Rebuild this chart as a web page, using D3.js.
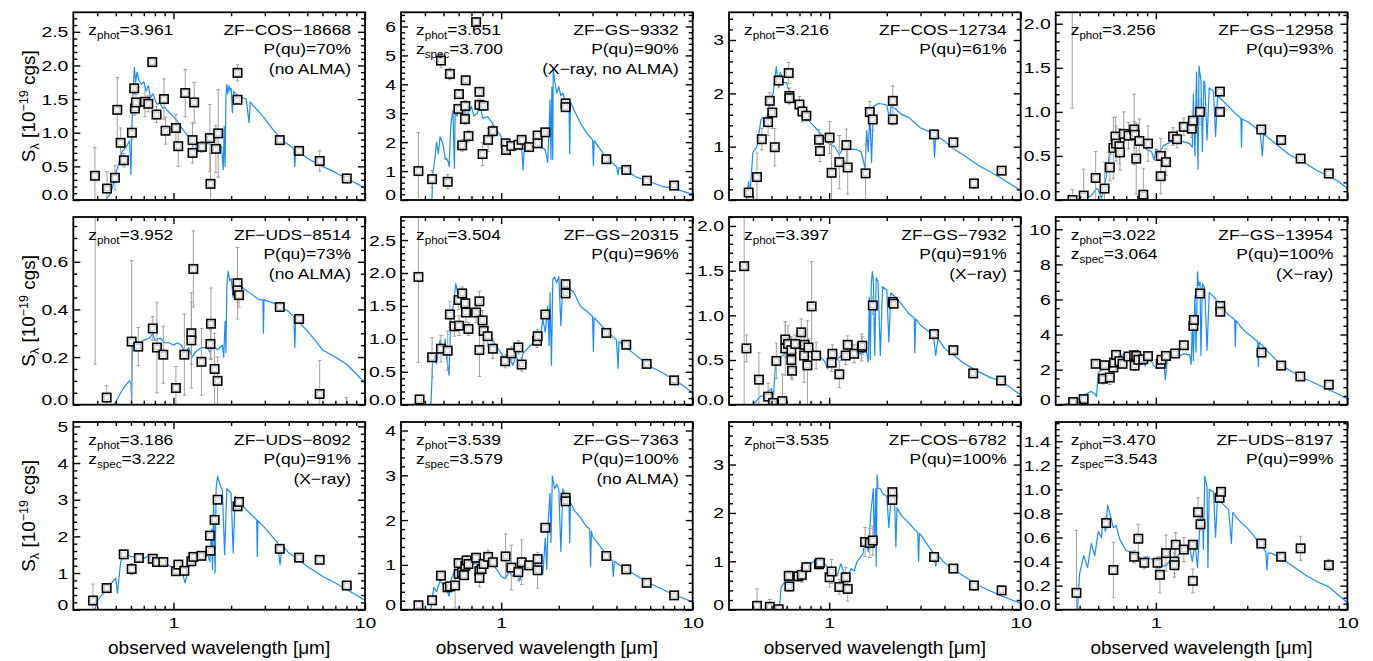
<!DOCTYPE html>
<html><head><meta charset="utf-8">
<script src="https://cdn.jsdelivr.net/npm/d3@7"></script>
<style>body{margin:0;background:#fff}</style>
</head><body><svg id="c" width="1373" height="661" xmlns="http://www.w3.org/2000/svg"></svg>
<script>
// ---------------- DATA ----------------
const names = ["ZF\u2212COS\u221218668","ZF\u2212GS\u22129332","ZF\u2212COS\u221212734","ZF\u2212GS\u221212958",
  "ZF\u2212UDS\u22128514","ZF\u2212GS\u221220315","ZF\u2212GS\u22127932","ZF\u2212GS\u221213954",
  "ZF\u2212UDS\u22128092","ZF\u2212GS\u22127363","ZF\u2212COS\u22126782","ZF\u2212UDS\u22128197"];
const zphot = ["3.961","3.651","3.216","3.256","3.952","3.504","3.397","3.022","3.186","3.539","3.535","3.470"];
const zspec = [null,"3.700",null,null,null,null,null,"3.064","3.222","3.579",null,"3.543"];
const pqu = ["70%","90%","61%","93%","73%","96%","91%","100%","91%","100%","100%","99%"];
const notes = ["(no ALMA)","(X\u2212ray, no ALMA)",null,null,"(no ALMA)",null,"(X\u2212ray)","(X\u2212ray)","(X\u2212ray)","(no ALMA)",null,null];
const yMax = [2.79,6.49,3.52,2.13,0.788,2.85,2.10,10.7,5.12,4.19,3.88,1.56];
const yStep = [0.5,1,1,0.5,0.2,0.5,0.5,2,1,1,1,0.2];
const yMinor = [0.1,0.2,0.2,0.1,0.05,0.1,0.1,0.5,0.2,0.2,0.2,0.05];
const xMajor = [1,10];
const xMinor = [0.4,0.5,0.6,0.7,0.8,0.9,2,3,4,5,6,7,8,9];
const xLabel = "observed wavelength [\u03bcm]";

// model spectra [wavelength (um), S_lambda]
const model1 = [[0.30,0],[0.44,0],[0.46,0.06],[0.48,0.18],[0.50,0.40],[0.52,0.55],[0.54,0.72],[0.55,0.75],[0.57,0.80],[0.59,0.88],[0.60,0.38],[0.605,0.95],[0.615,1.60],[0.625,1.97],[0.635,1.75],[0.645,1.90],[0.66,1.78],[0.68,1.72],[0.70,1.76],[0.72,1.62],[0.74,1.70],[0.76,1.52],[0.78,1.58],[0.80,1.50],[0.82,1.42],[0.85,1.45],[0.88,1.36],[0.90,1.38],[0.95,1.30],[1.0,1.24],[1.05,1.17],[1.1,1.08],[1.15,1.00],[1.2,0.94],[1.25,0.89],[1.3,0.85],[1.33,0.70],[1.36,0.84],[1.4,0.82],[1.5,0.84],[1.6,0.82],[1.7,0.80],[1.78,0.80],[1.82,0.45],[1.84,1.10],[1.86,0.50],[1.88,1.55],[1.9,1.72],[1.92,1.58],[1.95,1.70],[1.98,1.62],[2.0,1.66],[2.03,1.30],[2.06,1.62],[2.1,1.58],[2.2,1.55],[2.3,1.52],[2.4,1.50],[2.48,1.15],[2.52,1.46],[2.6,1.41],[2.8,1.31],[3.0,1.21],[3.3,1.05],[3.5,0.97],[3.8,0.86],[4.0,0.82],[4.25,0.76],[4.3,0.50],[4.35,0.75],[4.5,0.72],[5.0,0.62],[6.0,0.50],[7.0,0.41],[8.0,0.32],[9.0,0.25],[10,0.17]];
const model2 = [[0.30,0],[0.43,0],[0.435,0.02],[0.44,0.90],[0.45,1.38],[0.46,2.00],[0.47,1.60],[0.48,2.19],[0.49,2.05],[0.50,1.85],[0.51,1.40],[0.52,1.44],[0.53,1.30],[0.535,1.15],[0.545,2.50],[0.55,2.77],[0.56,3.10],[0.57,1.10],[0.575,3.00],[0.59,2.90],[0.60,3.11],[0.62,3.10],[0.64,3.35],[0.65,2.77],[0.67,3.00],[0.70,3.23],[0.72,2.90],[0.75,3.00],[0.78,3.30],[0.80,2.83],[0.85,2.88],[0.90,2.65],[0.95,2.40],[1.0,2.19],[1.05,1.85],[1.1,1.73],[1.15,1.90],[1.2,1.85],[1.25,1.75],[1.28,1.80],[1.30,1.04],[1.32,1.79],[1.4,1.79],[1.5,1.85],[1.6,1.85],[1.65,1.80],[1.7,1.73],[1.75,1.30],[1.78,2.50],[1.8,3.46],[1.82,1.40],[1.84,3.90],[1.86,1.40],[1.87,4.55],[1.9,4.15],[1.95,3.70],[2.0,3.92],[2.05,3.60],[2.1,3.70],[2.2,3.23],[2.26,3.30],[2.28,1.60],[2.3,3.40],[2.4,3.11],[2.6,2.65],[2.8,2.31],[3.0,2.08],[3.03,1.20],[3.06,2.05],[3.5,1.50],[4.0,1.15],[4.08,0.87],[4.12,1.12],[4.5,1.04],[5.0,0.81],[6.0,0.63],[7.0,0.46],[8.0,0.40],[9.0,0.29],[10,0.20]];
const model3 = [[0.30,0],[0.37,0],[0.38,0.35],[0.385,0.05],[0.40,0.90],[0.42,1.00],[0.44,1.50],[0.45,1.55],[0.47,1.50],[0.49,1.85],[0.51,2.00],[0.53,2.50],[0.545,2.10],[0.555,2.40],[0.58,2.20],[0.60,2.20],[0.62,2.00],[0.65,1.90],[0.675,1.75],[0.70,1.75],[0.75,1.55],[0.80,1.45],[0.85,1.35],[0.90,1.25],[0.95,1.15],[1.0,1.05],[1.07,1.00],[1.13,0.85],[1.2,1.00],[1.3,0.95],[1.39,0.95],[1.47,0.90],[1.54,0.60],[1.57,1.30],[1.60,0.90],[1.63,1.65],[1.665,0.70],[1.70,1.75],[1.8,1.81],[1.9,1.80],[2.0,1.78],[2.07,1.50],[2.1,1.75],[2.2,1.72],[2.4,1.60],[2.6,1.55],[2.8,1.45],[3.0,1.35],[3.5,1.25],[3.55,0.80],[3.6,1.22],[4.0,1.10],[4.5,0.95],[5.0,0.85],[6.0,0.65],[7.0,0.52],[8.0,0.40],[9.0,0.28],[10,0.18]];
const model4 = [[0.30,0],[0.42,0],[0.46,0.05],[0.49,0.13],[0.50,0.12],[0.52,0.02],[0.55,0.25],[0.57,0.50],[0.60,0.58],[0.63,0.66],[0.67,0.62],[0.70,0.70],[0.75,0.70],[0.78,0.75],[0.80,0.67],[0.85,0.62],[0.90,0.57],[0.95,0.55],[0.98,0.45],[1.0,0.58],[1.05,0.55],[1.1,0.62],[1.2,0.66],[1.3,0.67],[1.4,0.66],[1.5,0.64],[1.55,0.60],[1.57,1.20],[1.60,0.50],[1.63,1.45],[1.66,0.35],[1.68,1.52],[1.72,1.35],[1.75,0.55],[1.78,1.35],[1.80,1.33],[1.85,0.68],[1.90,1.27],[2.0,1.23],[2.05,0.72],[2.1,1.18],[2.2,1.14],[2.4,1.06],[2.6,0.98],[2.78,0.93],[2.8,0.60],[2.82,0.92],[3.0,0.89],[3.5,0.78],[3.6,0.50],[3.65,0.75],[4.0,0.68],[4.5,0.59],[5.0,0.51],[6.0,0.42],[7.0,0.33],[8.0,0.27],[9.0,0.21],[10,0.13]];
const model5 = [[0.30,0],[0.485,0],[0.50,0.01],[0.53,0.05],[0.56,0.08],[0.59,0.10],[0.60,0.09],[0.605,0.0],[0.61,0.25],[0.63,0.27],[0.65,0.26],[0.70,0.27],[0.75,0.28],[0.78,0.30],[0.80,0.27],[0.85,0.28],[0.90,0.26],[0.95,0.26],[1.0,0.25],[1.05,0.26],[1.1,0.25],[1.15,0.22],[1.2,0.24],[1.25,0.20],[1.3,0.22],[1.4,0.24],[1.5,0.24],[1.55,0.22],[1.6,0.25],[1.65,0.24],[1.7,0.23],[1.75,0.24],[1.8,0.25],[1.83,0.20],[1.86,0.35],[1.88,0.22],[1.9,0.50],[1.93,0.56],[1.97,0.52],[2.0,0.53],[2.05,0.45],[2.1,0.52],[2.2,0.50],[2.4,0.48],[2.6,0.46],[2.8,0.44],[2.93,0.44],[2.95,0.30],[2.97,0.44],[3.5,0.42],[4.0,0.39],[4.25,0.37],[4.3,0.24],[4.35,0.36],[5.0,0.31],[5.5,0.27],[6.0,0.23],[7.0,0.20],[8.0,0.17],[9.0,0.13],[10,0.09]];
const model6 = [[0.30,0],[0.43,0],[0.44,0.72],[0.46,0.62],[0.48,0.98],[0.50,0.75],[0.51,1.00],[0.52,0.70],[0.535,0.45],[0.545,1.30],[0.56,1.45],[0.58,1.84],[0.60,1.60],[0.62,1.75],[0.64,1.50],[0.66,1.55],[0.70,1.44],[0.75,1.35],[0.80,1.21],[0.85,1.05],[0.90,0.98],[0.95,0.88],[1.0,0.78],[1.05,0.68],[1.1,0.72],[1.15,0.60],[1.2,0.75],[1.25,0.55],[1.3,0.78],[1.4,0.88],[1.5,0.96],[1.6,1.02],[1.65,1.30],[1.7,1.10],[1.75,1.50],[1.78,0.90],[1.8,1.70],[1.83,0.60],[1.86,1.90],[1.9,1.94],[1.95,1.85],[2.0,1.95],[2.05,1.20],[2.1,1.85],[2.2,1.80],[2.4,1.70],[2.6,1.49],[2.8,1.42],[3.0,1.34],[3.03,0.81],[3.06,1.32],[3.5,1.14],[4.0,0.98],[4.08,0.55],[4.12,0.96],[4.5,0.87],[5.0,0.76],[6.0,0.58],[7.0,0.48],[8.0,0.38],[9.0,0.28],[10,0.18]];
const model7 = [[0.30,0],[0.40,0],[0.42,0.05],[0.44,0.10],[0.46,0.09],[0.48,0.15],[0.50,0.18],[0.51,0.05],[0.525,0.45],[0.55,0.50],[0.57,0.55],[0.60,0.58],[0.63,0.63],[0.66,0.66],[0.70,0.62],[0.75,0.64],[0.80,0.62],[0.85,0.57],[0.90,0.54],[0.95,0.48],[0.98,0.40],[1.0,0.50],[1.05,0.52],[1.1,0.50],[1.15,0.55],[1.2,0.55],[1.3,0.58],[1.4,0.56],[1.5,0.58],[1.55,0.65],[1.6,0.48],[1.62,1.20],[1.64,0.50],[1.66,1.35],[1.68,1.49],[1.70,1.40],[1.73,0.55],[1.76,1.42],[1.8,1.38],[1.85,0.55],[1.9,1.32],[2.0,1.28],[2.05,0.70],[2.1,1.25],[2.2,1.21],[2.4,1.12],[2.6,1.02],[2.78,0.97],[2.8,0.58],[2.83,0.96],[3.0,0.89],[3.5,0.78],[3.6,0.55],[3.7,0.74],[4.0,0.63],[4.5,0.55],[5.0,0.47],[6.0,0.37],[7.0,0.30],[8.0,0.26],[9.0,0.18],[10,0.11]];
const model8 = [[0.30,0],[0.33,0],[0.36,0.10],[0.40,0.32],[0.43,0.60],[0.46,0.76],[0.48,0.60],[0.49,0.47],[0.50,1.80],[0.52,2.00],[0.55,2.18],[0.57,2.45],[0.60,2.56],[0.63,2.55],[0.66,2.80],[0.70,2.94],[0.75,2.85],[0.80,2.90],[0.85,2.70],[0.88,2.20],[0.90,2.60],[0.95,2.45],[1.0,2.08],[1.05,2.45],[1.1,2.56],[1.12,1.42],[1.15,2.65],[1.2,2.70],[1.3,2.75],[1.4,2.90],[1.5,2.84],[1.53,2.30],[1.55,4.80],[1.57,2.50],[1.60,6.20],[1.62,3.00],[1.65,7.58],[1.67,6.80],[1.70,7.00],[1.72,2.80],[1.75,6.90],[1.8,6.63],[1.85,3.10],[1.9,6.40],[2.0,6.16],[2.2,5.59],[2.4,5.11],[2.58,4.85],[2.6,3.30],[2.62,4.80],[2.8,4.40],[3.0,4.07],[3.4,3.60],[3.43,2.18],[3.46,3.55],[4.0,2.84],[4.5,2.27],[5.0,1.95],[6.0,1.48],[7.0,1.15],[8.0,0.85],[9.0,0.60],[10,0.32]];
const model9 = [[0.30,0],[0.39,0],[0.40,0.25],[0.43,0.45],[0.45,0.60],[0.48,0.75],[0.50,0.86],[0.51,0.45],[0.53,1.30],[0.55,1.55],[0.60,1.45],[0.65,1.45],[0.70,1.40],[0.75,1.48],[0.80,1.38],[0.85,1.35],[0.90,1.30],[0.95,1.20],[1.0,1.15],[1.05,1.12],[1.1,1.10],[1.15,0.73],[1.2,1.15],[1.3,1.35],[1.4,1.45],[1.45,1.35],[1.5,1.55],[1.55,1.30],[1.58,2.20],[1.6,1.10],[1.62,3.00],[1.65,1.00],[1.67,3.30],[1.7,3.64],[1.75,3.40],[1.8,3.27],[1.85,1.50],[1.9,3.30],[2.0,3.18],[2.05,1.55],[2.1,3.10],[2.2,2.91],[2.4,2.73],[2.6,2.55],[2.72,2.45],[2.74,1.45],[2.76,2.43],[3.0,2.23],[3.5,1.82],[3.6,1.23],[3.7,1.75],[4.0,1.55],[4.5,1.36],[5.0,1.18],[6.0,0.91],[7.0,0.73],[8.0,0.55],[9.0,0.40],[10,0.25]];
const model10 = [[0.30,0],[0.43,0],[0.445,0.50],[0.46,0.40],[0.48,0.65],[0.50,0.55],[0.52,0.45],[0.535,0.30],[0.55,0.70],[0.57,0.85],[0.60,0.80],[0.65,0.97],[0.70,1.00],[0.75,1.05],[0.80,1.05],[0.85,1.10],[0.90,1.00],[0.95,0.90],[1.0,0.74],[1.05,0.70],[1.1,0.85],[1.15,0.75],[1.2,0.85],[1.25,0.65],[1.3,0.88],[1.4,0.95],[1.5,1.00],[1.55,1.10],[1.6,1.20],[1.65,0.80],[1.7,1.60],[1.73,0.90],[1.76,2.00],[1.8,2.60],[1.82,1.50],[1.85,2.99],[1.9,2.70],[1.95,2.80],[2.0,2.68],[2.05,1.30],[2.1,2.70],[2.2,2.45],[2.26,2.40],[2.28,1.50],[2.3,2.40],[2.4,2.23],[2.6,2.05],[2.8,1.85],[2.9,1.80],[2.93,0.97],[2.96,1.75],[3.0,1.64],[3.5,1.26],[3.8,1.10],[3.85,0.75],[3.9,1.08],[4.0,1.04],[4.5,0.90],[5.0,0.78],[6.0,0.58],[7.0,0.45],[8.0,0.33],[9.0,0.25],[10,0.17]];
const model11 = [[0.30,0],[0.55,0],[0.56,0.45],[0.58,0.55],[0.60,0.62],[0.65,0.70],[0.70,0.80],[0.75,0.90],[0.80,0.95],[0.85,1.03],[0.90,1.00],[0.95,0.95],[1.0,0.83],[1.03,0.60],[1.05,0.75],[1.1,0.70],[1.15,0.95],[1.2,0.75],[1.25,0.65],[1.3,0.85],[1.35,0.80],[1.4,1.00],[1.5,1.15],[1.55,1.50],[1.6,1.20],[1.65,2.00],[1.7,2.50],[1.72,1.30],[1.75,2.50],[1.76,0.90],[1.78,2.79],[1.8,2.50],[1.85,2.50],[1.9,2.40],[2.0,2.34],[2.05,1.70],[2.1,2.30],[2.2,2.14],[2.23,1.30],[2.26,2.10],[2.4,1.93],[2.6,1.80],[2.8,1.65],[2.9,1.60],[2.93,1.00],[2.96,1.58],[3.0,1.55],[3.5,1.17],[3.6,0.90],[3.7,1.12],[4.0,0.97],[4.5,0.83],[5.0,0.70],[6.0,0.50],[7.0,0.38],[8.0,0.28],[9.0,0.20],[10,0.13]];
const model12 = [[0.30,0],[0.39,0],[0.40,0.30],[0.42,0.45],[0.44,0.35],[0.46,0.55],[0.48,0.45],[0.50,0.65],[0.52,0.60],[0.53,0.75],[0.545,0.65],[0.56,0.87],[0.58,0.78],[0.60,0.68],[0.62,0.70],[0.65,0.58],[0.70,0.49],[0.75,0.48],[0.80,0.45],[0.85,0.42],[0.90,0.44],[0.95,0.42],[1.0,0.40],[1.05,0.38],[1.1,0.36],[1.15,0.38],[1.2,0.42],[1.25,0.40],[1.3,0.45],[1.4,0.50],[1.5,0.52],[1.55,0.40],[1.6,0.55],[1.65,0.35],[1.7,0.72],[1.75,0.85],[1.77,0.50],[1.8,1.11],[1.85,1.02],[1.87,0.35],[1.9,1.00],[2.0,0.98],[2.05,0.60],[2.1,0.95],[2.2,0.89],[2.4,0.83],[2.48,0.55],[2.52,0.81],[2.6,0.78],[2.8,0.72],[3.0,0.68],[3.5,0.55],[3.75,0.48],[3.8,0.33],[3.85,0.47],[4.0,0.47],[4.5,0.43],[5.0,0.38],[6.0,0.29],[7.0,0.23],[8.0,0.19],[9.0,0.12],[10,0.06]];

// photometry [wavelength (um), S_lambda, error]
const phot1 = [[0.389,0.36,0.42],[0.450,0.17,0.25],[0.495,0.33,0.18],[0.509,1.34,0.48],[0.530,0.85,0.22],[0.551,0.59,0.10],[0.607,1.00,0.10],[0.624,1.66,0.08],[0.629,1.36,0.10],[0.637,1.45,0.12],[0.710,1.46,0.22],[0.739,1.43,0.12],[0.775,2.05,0.06],[0.816,1.27,0.12],[0.892,1.50,0.30],[0.909,1.03,0.20],[1.030,1.07,0.20],[1.059,0.80,0.30],[1.152,1.59,0.35],[1.283,1.45,0.30],[1.258,0.89,0.25],[1.258,0.70,0.15],[1.407,0.79,0.08],[1.549,0.92,0.50],[1.561,0.24,0.45],[1.665,0.76,0.35],[1.712,0.99,0.65],[2.160,1.89,0.12],[2.160,1.49,0.05],[3.591,0.89,0.03],[4.529,0.73,0.05],[5.804,0.58,0.15],[8.03,0.32,0.07]];
const phot2 = [[0.370,1.00,1.33],[0.436,0.72,0.30],[0.526,0.63,0.25],[0.485,4.82,0.25],[0.540,4.36,0.20],[0.602,3.66,0.15],[0.598,3.15,0.15],[0.626,1.89,0.20],[0.647,2.80,0.20],[0.650,3.25,0.20],[0.653,4.14,0.10],[0.675,2.21,0.20],[0.740,6.15,0.10],[0.770,3.74,0.10],[0.770,3.29,0.20],[0.800,1.59,0.40],[0.810,3.26,0.15],[0.855,2.08,0.40],[0.905,2.38,0.20],[1.055,1.96,0.10],[1.060,1.73,0.10],[1.130,1.87,0.10],[1.230,1.91,0.10],[1.280,2.08,0.10],[1.400,1.83,0.08],[1.550,2.23,0.10],[1.550,1.96,0.10],[1.700,2.34,0.10],[2.170,3.34,0.10],[2.170,3.21,0.10],[3.540,1.41,0.05],[4.500,1.04,0.04],[5.770,0.67,0.05],[8.000,0.50,0.04]];
const phot3 = [[0.38,0.14,0.10],[0.42,0.43,0.45],[0.445,1.14,0.20],[0.48,1.46,0.25],[0.49,1.86,0.15],[0.505,1.64,0.30],[0.52,0.99,0.35],[0.545,2.24,0.10],[0.615,2.38,0.20],[0.62,1.95,0.15],[0.62,1.91,0.10],[0.70,1.79,0.15],[0.725,1.66,0.20],[0.76,1.58,0.10],[0.885,1.13,0.20],[0.895,0.92,0.20],[1.005,1.17,0.30],[1.03,0.51,0.55],[1.13,0.71,0.50],[1.23,1.03,0.30],[1.25,0.61,0.50],[1.55,0.50,0.55],[1.63,1.65,0.20],[1.69,1.51,0.20],[2.15,1.86,0.28],[2.15,1.51,0.10],[3.53,1.23,0.05],[4.45,1.08,0.03],[5.70,0.31,0.10],[7.95,0.55,0.07]];
const phot4 = [[0.366,2.50,1.46],[0.367,0.00,0.12],[0.42,0.05,0.30],[0.485,0.25,0.30],[0.54,0.13,0.30],[0.575,0.37,0.15],[0.60,0.59,0.35],[0.615,0.72,0.22],[0.62,0.64,0.20],[0.645,0.61,0.20],[0.65,0.54,0.20],[0.68,0.75,0.25],[0.72,0.73,0.15],[0.77,0.80,0.40],[0.775,0.74,0.15],[0.79,0.47,0.40],[0.82,0.67,0.25],[0.86,0.06,0.30],[0.91,0.64,0.20],[1.06,0.50,0.20],[1.06,0.27,0.20],[1.13,0.43,0.15],[1.23,0.72,0.10],[1.29,0.69,0.10],[1.40,0.83,0.10],[1.54,0.81,0.10],[1.56,0.90,0.10],[1.70,1.00,0.15],[2.16,1.23,0.03],[2.16,1.00,0.03],[3.55,0.80,0.02],[4.51,0.68,0.02],[5.70,0.47,0.02],[8.00,0.30,0.02]];
const phot5 = [[0.39,0.95,0.78],[0.448,0.03,0.05],[0.605,0.265,0.34],[0.655,0.244,0.08],[0.78,0.32,0.05],[0.82,0.24,0.19],[0.885,0.21,0.12],[1.03,0.07,0.09],[1.14,0.21,0.17],[1.24,0.30,0.13],[1.24,0.27,0.20],[1.27,0.57,0.16],[1.40,0.18,0.14],[1.56,0.255,0.06],[1.57,0.34,0.15],[1.64,0.15,0.15],[1.70,0.10,0.10],[2.16,0.51,0.15],[2.16,0.48,0.05],[2.20,0.46,0.05],[3.59,0.41,0.01],[4.53,0.36,0.01],[5.80,0.045,0.14],[8.00,-0.03,0.06]];
const phot6 = [[0.37,1.94,1.30],[0.375,0.08,0.05],[0.436,0.72,0.30],[0.485,0.85,0.20],[0.526,0.82,0.30],[0.54,1.37,0.20],[0.57,1.19,0.15],[0.60,1.59,0.15],[0.603,1.20,0.15],[0.626,1.69,0.10],[0.65,1.54,0.15],[0.655,1.40,0.15],[0.675,1.15,0.10],[0.74,1.40,0.15],[0.77,1.57,0.15],[0.77,0.83,0.40],[0.80,1.28,0.15],[0.81,1.12,0.20],[0.85,1.04,0.15],[0.905,0.85,0.15],[1.05,0.66,0.10],[1.13,0.78,0.10],[1.23,0.87,0.10],[1.28,0.61,0.10],[1.54,0.97,0.10],[1.55,1.04,0.10],[1.70,1.37,0.05],[2.17,1.83,0.05],[2.17,1.69,0.05],[3.54,1.09,0.03],[4.50,0.91,0.03],[5.75,0.62,0.03],[8.00,0.37,0.03]];
const phot7 = [[0.36,1.55,1.60],[0.37,0.63,0.15],[0.43,0.28,0.30],[0.48,0.09,0.15],[0.51,0.02,0.10],[0.53,0.49,0.20],[0.57,0.04,0.30],[0.59,0.73,0.20],[0.59,0.63,0.30],[0.61,0.68,0.20],[0.635,0.61,0.15],[0.635,0.50,0.20],[0.64,0.38,0.10],[0.665,0.68,0.10],[0.715,0.81,0.15],[0.74,0.55,0.30],[0.745,0.67,0.15],[0.77,0.44,0.50],[0.78,0.64,0.10],[0.81,1.10,0.50],[0.855,0.55,0.15],[1.03,0.47,0.10],[1.04,0.57,0.10],[1.13,0.34,0.15],[1.22,0.55,0.10],[1.25,0.67,0.10],[1.35,0.57,0.10],[1.48,0.64,0.15],[1.49,0.66,0.10],[1.69,1.11,0.10],[2.15,1.15,0.03],[2.17,1.13,0.03],[3.53,0.79,0.02],[4.45,0.61,0.02],[5.65,0.35,0.02],[7.90,0.27,0.02]];
const phot8 = [[0.37,0.15,0.10],[0.42,0.32,0.20],[0.485,2.33,0.20],[0.53,1.48,0.30],[0.54,2.25,0.15],[0.575,1.55,0.40],[0.60,2.12,0.20],[0.605,2.40,0.20],[0.62,2.84,0.20],[0.645,2.48,0.20],[0.67,2.33,0.20],[0.72,2.75,0.20],[0.77,2.82,0.20],[0.775,2.23,0.30],[0.79,2.78,0.20],[0.81,2.56,0.25],[0.86,2.59,0.20],[0.91,2.77,0.15],[1.06,2.33,0.15],[1.07,2.56,0.15],[1.13,2.78,0.10],[1.26,2.92,0.10],[1.40,3.39,0.10],[1.57,4.49,0.10],[1.58,4.83,0.10],[1.70,6.34,0.10],[2.17,5.63,0.10],[2.17,5.30,0.10],[3.56,2.97,0.05],[4.51,2.23,0.05],[5.68,1.61,0.05],[8.00,1.14,0.05]];
const phot9 = [[0.38,0.25,0.45],[0.448,0.59,0.10],[0.55,1.51,0.05],[0.605,1.11,0.15],[0.66,1.41,0.05],[0.78,1.39,0.05],[0.82,1.30,0.10],[0.885,1.30,0.05],[1.03,1.05,0.05],[1.06,1.23,0.10],[1.14,1.06,0.05],[1.24,1.32,0.05],[1.27,1.44,0.05],[1.40,1.47,0.05],[1.55,2.02,0.05],[1.56,1.61,0.05],[1.64,2.45,0.05],[1.70,3.00,0.05],[2.16,2.82,0.05],[2.20,2.94,0.05],[3.59,1.66,0.03],[4.53,1.42,0.03],[5.80,1.36,0.05],[8.03,0.66,0.05]];
const phot10 = [[0.37,0.10,0.05],[0.436,0.21,0.05],[0.485,0.76,0.10],[0.525,0.50,0.10],[0.54,0.52,0.10],[0.575,0.54,0.50],[0.60,1.04,0.10],[0.60,0.80,0.10],[0.625,0.83,0.10],[0.64,0.77,0.10],[0.65,0.98,0.10],[0.66,1.10,0.10],[0.675,1.02,0.10],[0.74,1.16,0.10],[0.77,0.86,0.10],[0.77,0.71,0.20],[0.79,0.91,0.15],[0.81,1.02,0.10],[0.855,1.18,0.15],[0.905,1.06,0.10],[1.055,1.19,0.50],[1.13,0.94,0.50],[1.23,0.84,0.20],[1.28,1.06,0.50],[1.40,0.99,0.10],[1.55,1.13,0.10],[1.55,0.88,0.40],[1.70,1.83,0.05],[2.17,2.50,0.05],[2.17,2.42,0.05],[3.54,1.20,0.03],[4.50,0.90,0.03],[5.75,0.60,0.03],[8.00,0.32,0.03]];
const phot11 = [[0.42,0.08,0.35],[0.49,0.06,0.15],[0.545,0.01,0.05],[0.615,0.70,0.10],[0.62,0.48,0.10],[0.69,0.69,0.10],[0.72,0.72,0.15],[0.76,0.88,0.10],[0.885,0.94,0.10],[0.895,0.97,0.10],[1.005,0.67,0.20],[1.03,0.79,0.25],[1.13,0.47,0.15],[1.22,0.67,0.20],[1.25,0.43,0.25],[1.54,1.40,0.30],[1.63,1.38,0.30],[1.69,1.43,0.30],[2.14,2.43,0.05],[2.14,2.27,0.05],[3.53,1.09,0.03],[4.45,0.85,0.03],[5.70,0.50,0.10],[7.95,0.40,0.05]];
const phot12 = [[0.385,0.14,0.52],[0.55,0.72,0.05],[0.60,0.33,0.23],[0.77,0.44,0.05],[0.81,0.59,0.12],[0.87,0.39,0.05],[1.02,0.39,0.05],[1.05,0.29,0.15],[1.13,0.47,0.15],[1.25,0.40,0.10],[1.25,0.37,0.10],[1.27,0.54,0.10],[1.40,0.50,0.10],[1.56,0.54,0.03],[1.56,0.24,0.10],[1.66,0.81,0.12],[1.71,0.71,0.05],[2.15,0.93,0.03],[2.19,0.98,0.03],[3.55,0.55,0.02],[4.51,0.44,0.02],[5.70,0.51,0.10],[8.00,0.37,0.05]];

const models = [model1,model2,model3,model4,model5,model6,model7,model8,model9,model10,model11,model12];
const phots = [phot1,phot2,phot3,phot4,phot5,phot6,phot7,phot8,phot9,phot10,phot11,phot12];

// ---------------- DRAW ----------------
const FONT = '"Liberation Sans", Arial, Helvetica, sans-serif';
const svg = d3.select('#c');
const colLeft = [73.3, 401, 729, 1055.7], rowTop = [12.3, 217, 422];
const W = 291.7, H = 187.7;
const BLUE = '#1a8cff', GREY = '#a0a0a0';
const TICKFS = 15.5, TICKSX = 1.25;   // tick labels: narrow glyph height, wide glyphs
const TXTFS = 15, TXTSX = 1.16;       // in-panel labels
const LABFS = 19;

function styleAxis(sel) {
  sel.select('.domain').remove();
  sel.selectAll('line').attr('stroke', '#000').attr('stroke-width', 1.4);
  sel.selectAll('text').attr('fill', '#000').style('font-family', FONT).style('font-size', TICKFS + 'px')
    .each(function () {
      const t = d3.select(this);
      const x0 = +t.attr('x') || 0;
      t.attr('x', x0 / TICKSX).attr('transform', `scale(${TICKSX},1)`);
    });
}

function stretchedText(parent, x, y, anchor) {
  return parent.append('text')
    .attr('transform', `translate(${x},${y}) scale(${TXTSX},1)`)
    .attr('text-anchor', anchor).style('font-size', TXTFS + 'px');
}

for (let i = 0; i < 12; i++) {
  const r = Math.floor(i / 4), c = i % 4;
  const g = svg.append('g').attr('transform', `translate(${colLeft[c]},${rowTop[r]})`);
  const x = d3.scaleLog().domain([0.3, 10]).range([0, W]);
  const y = d3.scaleLinear().domain([0, yMax[i]]).range([H, 0]);

  g.append('clipPath').attr('id', 'cp' + i).append('rect').attr('width', W).attr('height', H);
  const plot = g.append('g').attr('clip-path', `url(#cp${i})`);

  // model
  plot.append('path').datum(models[i])
    .attr('d', d3.line().x(d => x(d[0])).y(d => y(d[1])))
    .attr('fill', 'none').attr('stroke', BLUE).attr('stroke-width', 1.2).attr('stroke-linejoin', 'round');

  // error bars
  const eb = plot.append('g').selectAll('g').data(phots[i]).join('g');
  eb.append('line').attr('x1', d => x(d[0])).attr('x2', d => x(d[0]))
    .attr('y1', d => y(d[1] - d[2])).attr('y2', d => y(d[1] + d[2]))
    .attr('stroke', GREY).attr('stroke-width', 1);
  [-1, 1].forEach(s => {
    eb.append('line').attr('x1', d => x(d[0]) - 1.8).attr('x2', d => x(d[0]) + 1.8)
      .attr('y1', d => y(d[1] + s * d[2])).attr('y2', d => y(d[1] + s * d[2]))
      .attr('stroke', GREY).attr('stroke-width', 1);
  });
  // squares
  const sq = plot.append('g').selectAll('g').data(phots[i]).join('g')
    .attr('transform', d => `translate(${x(d[0])},${y(d[1])})`);
  sq.append('rect').attr('x', -4.2).attr('y', -4.2).attr('width', 8.4).attr('height', 8.4)
    .attr('fill', '#fff').attr('stroke', '#000').attr('stroke-width', 1.6);
  sq.append('rect').attr('x', -2.3).attr('y', -2.3).attr('width', 4.6).attr('height', 4.6)
    .attr('fill', 'none').attr('stroke', '#c4c4c4').attr('stroke-width', 0.9);

  // x axes
  const isBottom = r === 2;
  g.append('g').attr('transform', `translate(0,${H})`)
    .call(d3.axisBottom(x).tickValues(xMajor).tickSizeInner(-7).tickSizeOuter(0).tickPadding(7)
      .tickFormat(d => isBottom ? String(d) : ''))
    .call(styleAxis);
  g.append('g').attr('transform', `translate(0,${H})`)
    .call(d3.axisBottom(x).tickValues(xMinor).tickSizeInner(-4).tickSizeOuter(0).tickFormat(''))
    .call(styleAxis);
  g.append('g')
    .call(d3.axisTop(x).tickValues(xMajor).tickSizeInner(-7).tickSizeOuter(0).tickFormat(''))
    .call(styleAxis);
  g.append('g')
    .call(d3.axisTop(x).tickValues(xMinor).tickSizeInner(-4).tickSizeOuter(0).tickFormat(''))
    .call(styleAxis);

  // y axes
  const majors = d3.range(0, yMax[i] + 1e-9, yStep[i]).map(v => +v.toFixed(4));
  const minors = d3.range(0, yMax[i] + 1e-9, yMinor[i]).map(v => +v.toFixed(4))
    .filter(v => !majors.some(m => Math.abs(m - v) < 1e-6));
  const fmt = yStep[i] < 1 ? d3.format('.1f') : d3.format('d');
  const yl = g.append('g')
    .call(d3.axisLeft(y).tickValues(majors).tickSizeInner(-7).tickSizeOuter(0).tickPadding(5).tickFormat(fmt))
    .call(styleAxis);
  yl.selectAll('.tick').filter(d => d === 0).select('text').attr('dy', '-0.02em');
  g.append('g')
    .call(d3.axisLeft(y).tickValues(minors).tickSizeInner(-4).tickSizeOuter(0).tickFormat(''))
    .call(styleAxis);
  g.append('g').attr('transform', `translate(${W},0)`)
    .call(d3.axisRight(y).tickValues(majors).tickSizeInner(-7).tickSizeOuter(0).tickFormat(''))
    .call(styleAxis);
  g.append('g').attr('transform', `translate(${W},0)`)
    .call(d3.axisRight(y).tickValues(minors).tickSizeInner(-4).tickSizeOuter(0).tickFormat(''))
    .call(styleAxis);

  // frame
  g.append('rect').attr('width', W).attr('height', H).attr('fill', 'none')
    .attr('stroke', '#000').attr('stroke-width', 1.8);

  // labels inside
  const tg = g.append('g').style('font-family', FONT).attr('fill', '#000');
  const zl = [['phot', zphot[i]]];
  if (zspec[i]) zl.push(['spec', zspec[i]]);
  zl.forEach((z, k) => {
    const t = stretchedText(tg, 15, 22.5 + k * 19.5, 'start');
    t.append('tspan').text('z');
    t.append('tspan').attr('dy', 4).style('font-size', '10px').text(z[0]);
    t.append('tspan').attr('dy', -4).text('=' + z[1]);
  });
  const rl = [names[i], 'P(qu)=' + pqu[i]];
  if (notes[i]) rl.push(notes[i]);
  rl.forEach((s, k) => {
    stretchedText(tg, W - 14, 22.5 + k * 19.5, 'end').text(s);
  });

  if (isBottom) {
    g.append('text').attr('x', W / 2).attr('y', H + 44).attr('text-anchor', 'middle')
      .style('font-family', FONT).style('font-size', LABFS + 'px').text(xLabel);
  }
  if (c === 0) {
    const t = g.append('text').attr('transform', `translate(-38,${H / 2}) rotate(-90)`)
      .attr('text-anchor', 'middle').style('font-family', FONT).style('font-size', LABFS + 'px');
    t.append('tspan').text('S');
    t.append('tspan').attr('dy', 4).style('font-size', '12.5px').text('\u03bb');
    t.append('tspan').attr('dy', -4).text(' [10');
    t.append('tspan').attr('dy', -7.5).style('font-size', '12.5px').text('\u221219');
    t.append('tspan').attr('dy', 7.5).text(' cgs]');
  }
}
</script>
</body></html>
